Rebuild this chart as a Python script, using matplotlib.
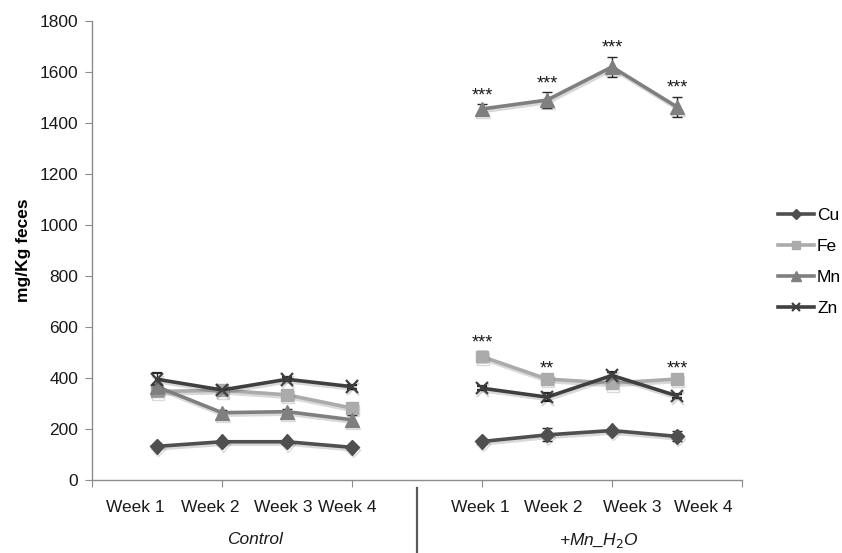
import matplotlib
matplotlib.use("Agg")
import matplotlib.pyplot as plt
import matplotlib.patheffects as pe
from matplotlib.lines import Line2D

plt.rcParams['font.family'] = ['Liberation Sans', 'DejaVu Sans']

# Weekly fecal metal content (mg/Kg feces)
groups = ["Control", "+Mn_H$_2$O"]
weeks = ["Week 1", "Week 2", "Week 3", "Week 4"]
metals = ["Cu", "Fe", "Mn", "Zn"]

cu_control = [132, 150, 150, 128]
cu_mn = [151, 177, 194, 171]
fe_control = [347, 352, 334, 282]
fe_mn = [484, 396, 380, 396]
mn_control = [366, 264, 268, 236]
mn_mn = [1455, 1490, 1620, 1463]
zn_control = [395, 353, 395, 366]
zn_mn = [360, 325, 410, 330]

cu_control_err = [5, 6, 6, 5]
cu_mn_err = [8, 25, 10, 20]
fe_control_err = [10, 10, 10, 15]
fe_mn_err = [20, 8, 10, 8]
mn_control_err = [10, 10, 10, 18]
mn_mn_err = [20, 30, 40, 40]
zn_control_err = [26, 8, 8, 8]
zn_mn_err = [8, 15, 12, 8]

# significance marks for the Mn-supplemented group
fe_mn_sig = ["***", "**", "", "***"]
mn_mn_sig = ["***", "***", "***", "***"]

# category slots: control at 1-4, treatment at 6-9
control_x = [1, 2, 3, 4]
mn_x = [6, 7, 8, 9]

styles = {
    "Cu": dict(color="#4f4f4f", marker="D", ms=7.5),
    "Fe": dict(color="#ababab", marker="s", ms=8.5),
    "Mn": dict(color="#7f7f7f", marker="^", ms=10),
    "Zn": dict(color="#3f3f3f", marker="x", ms=9, mew=1.6),
}
series = {
    "Cu": (cu_control, cu_mn, cu_control_err, cu_mn_err),
    "Fe": (fe_control, fe_mn, fe_control_err, fe_mn_err),
    "Mn": (mn_control, mn_mn, mn_control_err, mn_mn_err),
    "Zn": (zn_control, zn_mn, zn_control_err, zn_mn_err),
}

FS = 12.5

fig = plt.figure(figsize=(8.42, 5.53), dpi=100)
ax = fig.add_axes([92 / 842, 73 / 553, 650 / 842, 459 / 553])

shadow = [pe.SimpleLineShadow(offset=(0.8, -1.8), shadow_color="#000000", alpha=0.15),
          pe.Normal()]

handles = []
for name in metals:
    ctrl, trt, ctrl_e, trt_e = series[name]
    st = styles[name]
    kw = dict(color=st["color"], lw=2.6, marker=st["marker"], ms=st["ms"],
              mew=st.get("mew", 1.0), mec=st["color"], mfc=st["color"],
              capsize=3.5, elinewidth=1.0, ecolor="#2a2a2a", capthick=1.0)
    for xs, ys, es in ((control_x, ctrl, ctrl_e), (mn_x, trt, trt_e)):
        cont = ax.errorbar(xs, ys, yerr=es, **kw)
        cont.lines[0].set_path_effects(shadow)
    handles.append(Line2D([], [], color=st["color"], lw=2.6, marker=st["marker"],
                          ms=st["ms"] * 0.7, mew=st.get("mew", 1.0),
                          mec=st["color"], mfc=st["color"]))

# significance asterisks above the error bars
for xs, ys, es, sig in ((mn_x, fe_mn, fe_mn_err, fe_mn_sig),
                        (mn_x, mn_mn, mn_mn_err, mn_mn_sig)):
    for x, y, e, s in zip(xs, ys, es, sig):
        if s:
            ax.annotate(s, (x, y + e), xytext=(0, 6), textcoords="offset points",
                        ha="center", va="center", fontsize=13, color="#1a1a1a")

ax.set_xlim(0, 10)
ax.set_ylim(0, 1800)
ax.set_yticks(range(0, 1801, 200))
ax.set_xticks(range(0, 11, 2))
ax.set_xticklabels([])
for s in ("top", "right"):
    ax.spines[s].set_visible(False)
for s in ("left", "bottom"):
    ax.spines[s].set_color("#8c8c8c")
    ax.spines[s].set_linewidth(1.0)
ax.tick_params(axis="both", direction="out", length=5, color="#8c8c8c",
               labelsize=FS, labelcolor="#1a1a1a")
ax.tick_params(axis="y", pad=5)
ax.set_ylabel("mg/Kg feces", fontsize=FS, fontweight="bold", labelpad=6)

# week and group labels under the category axis
trans = ax.get_xaxis_transform()
week_pos = [0.66, 1.82, 2.94, 3.92, 5.98, 7.09, 8.31, 9.40]
for x, lab in zip(week_pos, weeks + weeks):
    ax.text(x, -27 / 459, lab, transform=trans, ha="center", va="center",
            fontsize=FS, color="#1a1a1a")
ax.text(2.5, -60 / 459, groups[0], transform=trans, ha="center", va="center",
        fontsize=FS, style="italic", color="#1a1a1a")
ax.text(7.8, -60 / 459, groups[1], transform=trans, ha="center", va="center",
        fontsize=FS, style="italic", color="#1a1a1a")

# group divider
fig.add_artist(Line2D([417 / 842, 417 / 842], [0, 1 - 488 / 553],
                      color="#5a5a5a", lw=1.6, transform=fig.transFigure))

fig.legend(handles, metals, loc="center left", bbox_to_anchor=(778 / 842, 1 - 262 / 553),
           frameon=False, fontsize=FS, handlelength=2.1, handletextpad=0.15,
           labelspacing=0.92, borderpad=0, borderaxespad=0, numpoints=1)

fig.savefig("out.png", dpi=100)
